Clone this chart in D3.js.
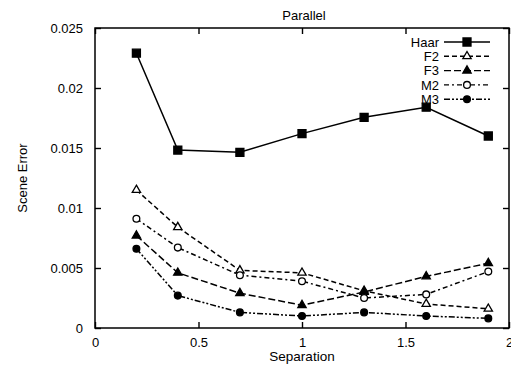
<!DOCTYPE html>
<meta charset="utf-8">
<title>Parallel</title>
<style>
body { margin: 0; background: #fff; font-family: "Liberation Sans", Arial, sans-serif; }
.tick text { font-size: 13px; fill: #000; }
.line { fill: none; stroke: #000; stroke-width: 1.5px; }
</style>
<body>
<svg width="511" height="368"></svg>
<script src="https://d3js.org/d3.v7.min.js"></script>
<script>
// separation values along x
var separation = [0.2, 0.4, 0.7, 1.0, 1.3, 1.6, 1.9];

var haar = [0.0229, 0.01483, 0.01464, 0.0162, 0.01756, 0.0184, 0.0160];
var f2   = [0.0115, 0.0084, 0.0048, 0.0046, 0.0031, 0.0020, 0.0016];
var f3   = [0.0077, 0.0046, 0.0029, 0.0019, 0.0030, 0.0043, 0.0054];
var m2   = [0.0091, 0.0067, 0.0044, 0.0039, 0.0025, 0.0028, 0.0047];
var m3   = [0.0066, 0.0027, 0.0013, 0.0010, 0.0013, 0.0010, 0.0008];

var xTicks = [0, 0.5, 1, 1.5, 2];
var yTicks = [0, 0.005, 0.01, 0.015, 0.02, 0.025];

var series = [
  {name: "Haar", values: haar, dash: null,       marker: "square",   fill: true},
  {name: "F2",   values: f2,   dash: "5,3",      marker: "triangle", fill: false},
  {name: "F3",   values: f3,   dash: "7,3",      marker: "triangle", fill: true},
  {name: "M2",   values: m2,   dash: "5,3,2,3",  marker: "circle",   fill: false},
  {name: "M3",   values: m3,   dash: "6,2,2,2,2,2", marker: "circle", fill: true}
];

var svg = d3.select("svg"),
    margin = {top: 28, right: 2, bottom: 40, left: 95},
    width = 511 - margin.left - margin.right,
    height = 368 - margin.top - margin.bottom,
    g = svg.append("g").attr("transform", "translate(" + margin.left + "," + margin.top + ")");

var x = d3.scaleLinear().domain([0, 2]).range([0, width]),
    y = d3.scaleLinear().domain([0, 0.025]).range([height, 0]);

// ticks point inward on all four sides
g.append("g")
    .attr("transform", "translate(0," + height + ")")
    .call(d3.axisBottom(x).tickValues(xTicks).tickSizeInner(-6).tickSizeOuter(0).tickPadding(10).tickFormat(d3.format("")));
g.append("g")
    .call(d3.axisTop(x).tickValues(xTicks).tickSizeInner(-6).tickSizeOuter(0).tickFormat(""));
g.append("g")
    .call(d3.axisLeft(y).tickValues(yTicks).tickSizeInner(-6).tickSizeOuter(0).tickPadding(12).tickFormat(d3.format("")));
g.append("g")
    .attr("transform", "translate(" + width + ",0)")
    .call(d3.axisRight(y).tickValues(yTicks).tickSizeInner(-6).tickSizeOuter(0).tickFormat(""));

g.selectAll(".domain").remove();
g.selectAll(".tick line").attr("stroke", "#000").attr("stroke-width", 1.4);
g.selectAll(".tick text").style("font-family", "'Liberation Sans', Arial, sans-serif");

g.append("rect")
    .attr("width", width)
    .attr("height", height)
    .attr("fill", "none")
    .attr("stroke", "#000")
    .attr("stroke-width", 1.5);

var line = d3.line()
    .x(function(d, i) { return x(separation[i]); })
    .y(function(d) { return y(d); });

function drawMarker(sel, s) {
  var sym = s.marker == "square" ? d3.symbolSquare : s.marker == "triangle" ? d3.symbolTriangle : d3.symbolCircle;
  var area = s.marker == "square" ? 64 : s.marker == "triangle" ? 30 : 36;
  sel.append("path")
      .attr("d", d3.symbol().type(sym).size(area))
      .attr("fill", s.fill ? "#000" : "#fff")
      .attr("stroke", "#000")
      .attr("stroke-width", 1.3);
}

series.forEach(function(s) {
  g.append("path")
      .datum(s.values)
      .attr("class", "line")
      .attr("stroke-dasharray", s.dash)
      .attr("d", line);
  s.values.forEach(function(v, i) {
    var m = g.append("g").attr("transform", "translate(" + x(separation[i]) + "," + y(v) + ")");
    drawMarker(m, s);
  });
});

// legend
var legend = svg.append("g").attr("transform", "translate(0,42)");
series.forEach(function(s, i) {
  var row = legend.append("g").attr("transform", "translate(0," + (i * 14.3) + ")");
  row.append("text")
      .attr("x", 439)
      .attr("dy", "0.36em")
      .attr("text-anchor", "end")
      .style("font-size", "13px")
      .text(s.name);
  row.append("line")
      .attr("x1", 444).attr("x2", 490)
      .attr("stroke", "#000")
      .attr("stroke-width", 1.4)
      .attr("stroke-dasharray", s.dash);
  var m = row.append("g").attr("transform", "translate(467,0)");
  drawMarker(m, s);
});

svg.append("text")
    .attr("x", 304).attr("y", 20)
    .attr("text-anchor", "middle")
    .style("font-size", "13px")
    .text("Parallel");

svg.append("text")
    .attr("x", margin.left + width / 2).attr("y", 361)
    .attr("text-anchor", "middle")
    .style("font-size", "13.5px")
    .text("Separation");

svg.append("text")
    .attr("transform", "translate(27," + (margin.top + height / 2) + ") rotate(-90)")
    .attr("text-anchor", "middle")
    .style("font-size", "13px")
    .text("Scene Error");
</script>
</body>
